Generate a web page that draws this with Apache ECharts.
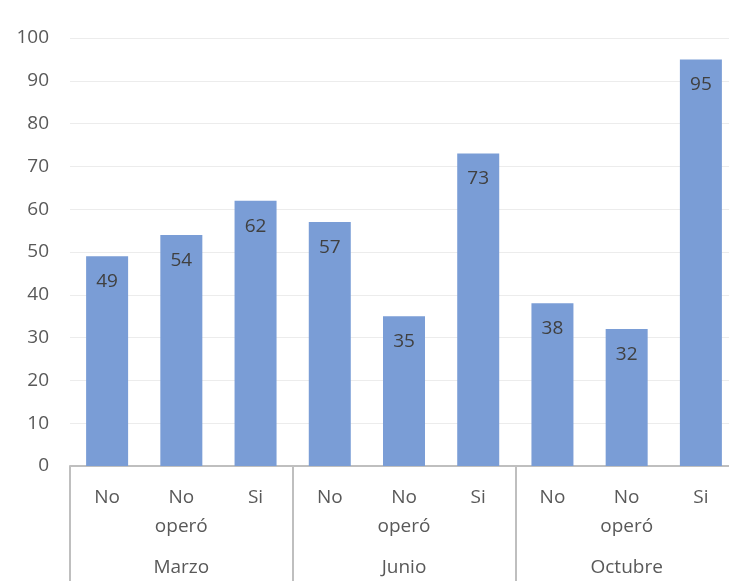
<!DOCTYPE html>
<html>
<head>
<meta charset="utf-8">
<script src="https://cdn.jsdelivr.net/npm/echarts@6/dist/echarts.min.js"></script>
<style>
  html, body { margin: 0; padding: 0; background: #fff; }
  #main { width: 729px; height: 581px; }
</style>
</head>
<body>
<div id="main"></div>
<script>
var categories = ['No', 'No\noperó', 'Si', 'No', 'No\noperó', 'Si', 'No', 'No\noperó', 'Si'];
var groups = ['Marzo', 'Junio', 'Octubre'];
var values = [49, 54, 62, 57, 35, 73, 38, 32, 95];

var textFont = 'Open Sans';
var chart = echarts.init(document.getElementById('main'));

var option = {
    animation: false,
    grid: { left: 70, width: 668, top: 38, bottom: 115, outerBoundsMode: 'none', containLabel: false },
    xAxis: [
        {
            type: 'category',
            data: categories,
            axisLine: { lineStyle: { color: '#bfbfbf', width: 2 } },
            axisTick: { show: false },
            axisLabel: {
                interval: 0,
                margin: 17,
                color: '#595959',
                fontFamily: textFont,
                fontSize: 19,
                lineHeight: 29,
                verticalAlign: 'top'
            }
        },
        {
            type: 'category',
            position: 'bottom',
            data: groups,
            axisLine: { show: false },
            axisTick: {
                show: true,
                interval: 0,
                length: 130,
                lineStyle: { color: '#bfbfbf', width: 2 }
            },
            axisLabel: {
                interval: 0,
                margin: 92,
                color: '#595959',
                fontFamily: textFont,
                fontSize: 19
            }
        }
    ],
    yAxis: {
        type: 'value',
        min: 0,
        max: 100,
        interval: 10,
        axisLine: { show: false },
        axisTick: { show: false },
        splitLine: { lineStyle: { color: '#ececec', width: 1 } },
        axisLabel: {
            margin: 21,
            color: '#595959',
            fontFamily: textFont,
            fontSize: 19
        }
    },
    series: [
        {
            type: 'bar',
            xAxisIndex: 0,
            data: values,
            barWidth: 42,
            itemStyle: { color: '#7a9dd6' },
            label: {
                show: true,
                position: 'insideTop',
                distance: 16,
                color: '#404040',
                fontFamily: textFont,
                fontSize: 19
            }
        }
    ]
};

chart.setOption(option);
</script>
</body>
</html>
